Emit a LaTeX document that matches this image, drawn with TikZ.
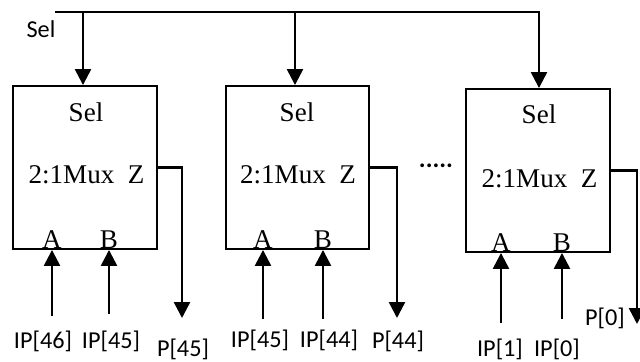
\documentclass[tikz,border=0pt]{standalone}
\usepackage{fontspec}
\setmainfont{Liberation Serif}
\setsansfont{Carlito}
\usetikzlibrary{positioning,arrows.meta}

\begin{document}
\begin{tikzpicture}[
  x=0.02cm, y=-0.02cm,
  muxbox/.style={
    draw, line width=1.1pt, inner sep=0pt,
    minimum width=2.87cm, minimum height=3.26cm
  },
  boxtxt/.style={font=\fontsize{15.4}{18}\selectfont, anchor=base, inner sep=0pt},
  sig/.style={font=\sffamily\fontsize{13.8}{16}\selectfont, inner sep=0pt},
  arr/.style={-{Triangle[length=0.32cm,width=0.32cm]}, line width=1.4pt}
]
\useasboundingbox (0,0) rectangle (640,362);

%% Multiplexers
\node[muxbox] (M1) at (85,167.5) {};
\node[muxbox] (M2) at (297.5,167.5) {};
\node[muxbox] (M3) at (538,170.5) {};

%% Texts inside the boxes
\node[boxtxt] (sel1) at (86,121)   {Sel};
\node[boxtxt] (mux1) at (86.5,183) {2:1Mux\hspace{0.5em}Z};
\node[boxtxt] (a1)   at (52,248)   {A};
\node[boxtxt] (b1)   at (109,248)  {B};

\node[boxtxt] (sel2) at (297,121)  {Sel};
\node[boxtxt] (mux2) at (298,183)  {2:1Mux\hspace{0.5em}Z};
\node[boxtxt] (a2)   at (263,248)  {A};
\node[boxtxt] (b2)   at (323,248)  {B};

\node[boxtxt] (sel3) at (539,123)  {Sel};
\node[boxtxt] (mux3) at (539.5,187) {2:1Mux\hspace{0.5em}Z};
\node[boxtxt] (a3)   at (501,251)  {A};
\node[boxtxt] (b3)   at (562,251)  {B};

\node[font=\sffamily\bfseries\fontsize{14.5}{16}\selectfont, inner sep=0pt] (dots) at (436,166) {.....};

%% Sel bus
\coordinate (selin) at (55,12);
\coordinate (t1) at (83,12);
\coordinate (t2) at (295,12);
\coordinate (t3) at (539,12);
\node[sig] (lsel) at (41,29) {Sel};

\draw[arr] (selin) -- (t3) -- (t3 |- M3.north);
\draw[arr] (t1) -- (t1 |- M1.north);
\draw[arr] (t2) -- (t2 |- M2.north);

%% Inputs
\coordinate (ia1) at (52,316);
\coordinate (ib1) at (109,314);
\coordinate (ia2) at (263,319);
\coordinate (ib2) at (323,319);
\coordinate (ia3) at (501,323);
\coordinate (ib3) at (562,319);

\draw[arr] (ia1) -- (ia1 |- M1.south);
\draw[arr] (ib1) -- (ib1 |- M1.south);
\draw[arr] (ia2) -- (ia2 |- M2.south);
\draw[arr] (ib2) -- (ib2 |- M2.south);
\draw[arr] (ia3) -- (ia3 |- M3.south);
\draw[arr] (ib3) -- (ib3 |- M3.south);

%% Outputs
\coordinate (z1) at (182,318);
\coordinate (z2) at (397,318);
\coordinate (z3) at (637,324);

\draw[arr] (M1.east) -| (z1);
\draw[arr] (M2.east) -| (z2);
\draw[arr] (M3.east) -| (z3);

%% Signal names
\node[sig] (lip46)  at (43,341)  {IP[46]};
\node[sig] (lip45)  at (111,341) {IP[45]};
\node[sig] (lp45)   at (183,349) {P[45]};
\node[sig] (lip45b) at (260,340) {IP[45]};
\node[sig] (lip44)  at (329,340) {IP[44]};
\node[sig] (lp44)   at (398,341) {P[44]};
\node[sig] (lip1)   at (500,349) {IP[1]};
\node[sig] (lip0)   at (557,349) {IP[0]};
\node[sig] (lp0)    at (605,318) {P[0]};

\end{tikzpicture}
\end{document}
